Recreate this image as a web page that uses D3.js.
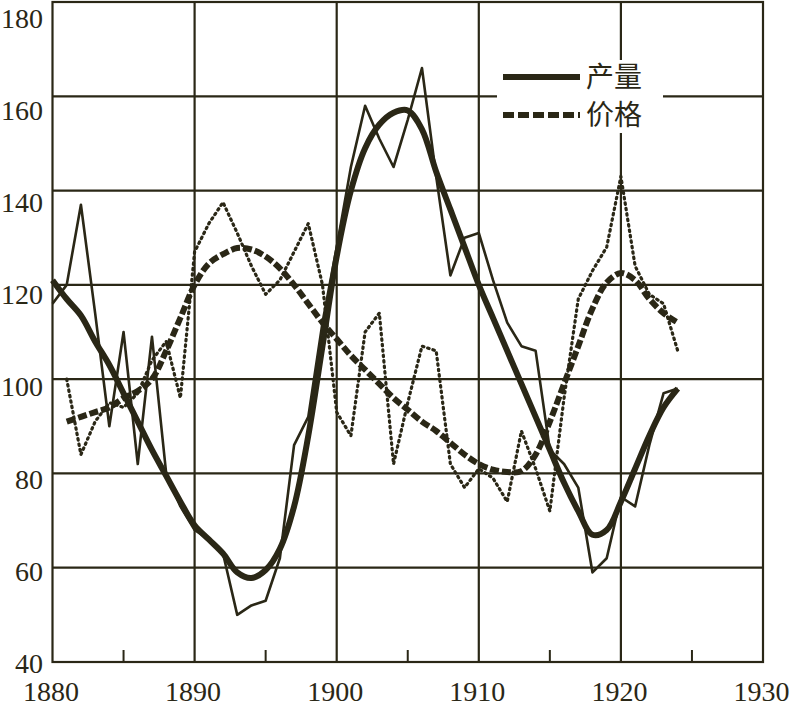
<!DOCTYPE html>
<html>
<head>
<meta charset="utf-8">
<script src="https://cdn.jsdelivr.net/npm/d3@7"></script>
<style>
  body { margin: 0; background: #fff; }
  .tick-label { font-family: "Liberation Serif", Tinos, "Times New Roman", Times, "DejaVu Serif", serif; font-size: 28px; }
  .legend-label { font-family: "Noto Sans CJK SC", sans-serif; font-size: 28px; }
</style>
</head>
<body>
<div id="chart"></div>
<script>
// Production (产量): yearly values and the smoothed trend
const prodYears = [1880, 1881, 1882, 1883, 1884, 1885, 1886, 1887, 1888, 1889,
                   1890, 1891, 1892, 1893, 1894, 1895, 1896, 1897, 1898, 1899,
                   1900, 1901, 1902, 1903, 1904, 1905, 1906, 1907, 1908, 1909,
                   1910, 1911, 1912, 1913, 1914, 1915, 1916, 1917, 1918, 1919,
                   1920, 1921, 1922, 1923, 1924];
const prodRaw = [116, 120, 137, 114, 90, 110, 82, 109, 80, 73,
                 68, 66, 63, 50, 52, 53, 62, 86, 92, 112,
                 128, 145, 158, 151, 145, 155, 166, 143, 122, 130,
                 131, 121, 112, 107, 106, 85, 82, 77, 59, 62,
                 75, 73, 86, 97, 98];
const prodTrend = [121, 117, 113.5, 108, 103, 97, 91, 85, 79.5, 74,
                   69, 66, 63, 59, 57.8, 59.5, 64, 73, 88, 107,
                   126, 140, 149, 154, 156.5, 157, 153, 144, 136, 128,
                   120, 113, 106, 99, 92, 85, 78, 72, 67, 68,
                   74, 81, 88, 94, 98];

// Price (价格): yearly values and the smoothed trend
const priceYears = [1881, 1882, 1883, 1884, 1885, 1886, 1887, 1888, 1889,
                    1890, 1891, 1892, 1893, 1894, 1895, 1896, 1897, 1898, 1899,
                    1900, 1901, 1902, 1903, 1904, 1905, 1906, 1907, 1908, 1909,
                    1910, 1911, 1912, 1913, 1914, 1915, 1916, 1917, 1918, 1919,
                    1920, 1921, 1922, 1923, 1924];
const priceRaw = [100, 84, 91, 95, 94, 97, 104, 108, 96,
                  127, 133, 137.5, 131, 124, 118, 121, 127, 133, 120,
                  93, 88, 110, 114, 82, 95, 107, 106, 82, 77,
                  81, 79, 74, 89, 81, 72, 96, 117, 123, 128,
                  143, 124, 118, 116, 106];
const priceTrend = [91, 92, 93, 94, 96, 97.5, 100, 106, 113,
                    120, 124.5, 126.5, 127.8, 127.5, 126, 123.5, 120, 116, 112,
                    108.5, 105, 102, 99, 96, 93.5, 91, 89, 86.5, 84,
                    82, 80.8, 80.3, 80.5, 84, 91, 99, 107, 115, 120.5,
                    122.5, 121, 117, 114, 112];

// Axes
const yTicks = [40, 60, 80, 100, 120, 140, 160, 180];
const xTicks = [1880, 1890, 1900, 1910, 1920, 1930];
const xMinorTicks = [1885, 1895, 1905, 1915, 1925];
const legendItems = ["产量", "价格"];

const width = 794, height = 706;
const ink = "#2a2716";

const svg = d3.select("#chart").append("svg")
    .attr("width", width)
    .attr("height", height);

const x = d3.scaleLinear().domain([1880, 1930]).range([52.5, 763]);
const y = d3.scaleLinear().domain([40, 180]).range([662, 2]);
// the printed tick labels sit on a slightly tighter spacing than the grid
const yLabel = d3.scaleLinear().domain([40, 180]).range([663, 18]);

// grid
svg.append("g").selectAll("line")
    .data(yTicks.filter(v => v > 40 && v < 180))
    .enter().append("line")
    .attr("x1", x(1880)).attr("x2", x(1930))
    .attr("y1", d => y(d)).attr("y2", d => y(d))
    .attr("stroke", ink).attr("stroke-width", 2.2);

svg.append("g").selectAll("line")
    .data(xTicks.filter(v => v > 1880 && v < 1930))
    .enter().append("line")
    .attr("x1", d => x(d)).attr("x2", d => x(d))
    .attr("y1", y(180)).attr("y2", y(40))
    .attr("stroke", ink).attr("stroke-width", 2.2);

svg.append("rect")
    .attr("x", x(1880)).attr("y", y(180))
    .attr("width", x(1930) - x(1880)).attr("height", y(40) - y(180))
    .attr("fill", "none").attr("stroke", ink).attr("stroke-width", 2.2);

svg.append("g").selectAll("line")
    .data(xMinorTicks)
    .enter().append("line")
    .attr("x1", d => x(d)).attr("x2", d => x(d))
    .attr("y1", y(40)).attr("y2", y(40) - 12)
    .attr("stroke", ink).attr("stroke-width", 2);

// tick labels
svg.append("g").selectAll("text")
    .data(yTicks)
    .enter().append("text")
    .attr("class", "tick-label")
    .attr("x", 43).attr("y", d => yLabel(d))
    .attr("dy", "0.35em")
    .attr("text-anchor", "end")
    .attr("fill", ink)
    .text(d => d);

svg.append("g").selectAll("text")
    .data(xTicks)
    .enter().append("text")
    .attr("class", "tick-label")
    .attr("x", d => x(d) - 1.5).attr("y", 691)
    .attr("dy", "0.35em")
    .attr("text-anchor", "middle")
    .attr("fill", ink)
    .text(d => d);

// series
const rawLine = d3.line().x(d => x(d[0])).y(d => y(d[1]));
const smoothLine = d3.line().x(d => x(d[0])).y(d => y(d[1])).curve(d3.curveCatmullRom.alpha(0.5));

const plot = svg.append("g").attr("fill", "none").attr("stroke", ink)
    .attr("stroke-linejoin", "round");

plot.append("path")
    .datum(d3.zip(priceYears, priceTrend))
    .attr("d", smoothLine)
    .attr("stroke-width", 6)
    .attr("stroke-dasharray", "9,3");

plot.append("path")
    .datum(d3.zip(priceYears, priceRaw))
    .attr("d", rawLine)
    .attr("stroke-width", 3.2)
    .attr("stroke-linecap", "round")
    .attr("stroke-dasharray", "1.5,4");

plot.append("path")
    .datum(d3.zip(prodYears, prodTrend))
    .attr("d", smoothLine)
    .attr("stroke-width", 6);

plot.append("path")
    .datum(d3.zip(prodYears, prodRaw))
    .attr("d", rawLine)
    .attr("stroke-width", 2.6);

// legend
const legend = svg.append("g");
legend.append("rect")
    .attr("x", 497).attr("y", 60).attr("width", 166).attr("height", 73)
    .attr("fill", "#fff");

legend.selectAll("line")
    .data(legendItems)
    .enter().append("line")
    .attr("x1", 503).attr("x2", 580)
    .attr("y1", (d, i) => 77 + i * 38).attr("y2", (d, i) => 77 + i * 38)
    .attr("stroke", ink).attr("stroke-width", 6)
    .attr("stroke-dasharray", (d, i) => i ? "11,4" : null);

legend.selectAll("text")
    .data(legendItems)
    .enter().append("text")
    .attr("class", "legend-label")
    .attr("x", 586).attr("y", (d, i) => 77 + i * 38)
    .attr("dy", "0.36em")
    .attr("fill", ink)
    .text(d => d);
</script>
</body>
</html>
